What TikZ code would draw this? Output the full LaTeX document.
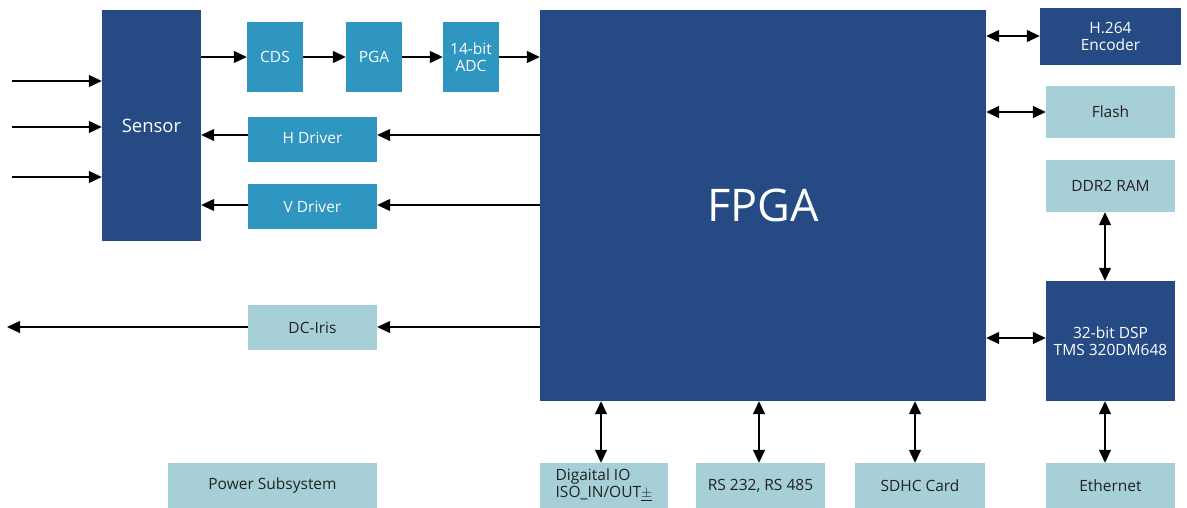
\documentclass[tikz,border=0pt]{standalone}
\usepackage{fontspec}
\setmainfont{Open Sans}
\usetikzlibrary{arrows.meta}
\definecolor{dkblue}{HTML}{254A84}
\definecolor{mdblue}{HTML}{2E96C0}
\definecolor{ltblue}{HTML}{A6CFD8}
\definecolor{txt}{HTML}{222222}
\tikzset{
  box/.style={draw=none, inner sep=0pt, align=center, font=\fontsize{15.5}{17.5}\selectfont},
  dark/.style={box, fill=dkblue, text=white},
  mid/.style={box, fill=mdblue, text=white},
  light/.style={box, fill=ltblue, text=txt},
  conn/.style={line width=1.3pt, -{Triangle[length=13pt,width=12pt]}},
  bconn/.style={line width=1.3pt, {Triangle[length=13pt,width=12pt]}-{Triangle[length=13pt,width=12pt]}},
}
\newcommand{\blk}[6]{%
  \node[#2, minimum width={#5-#3}, minimum height={#6-#4}] (#1) at ({(#3+#5)/2},{(#4+#6)/2})}
\begin{document}
\begin{tikzpicture}[x=1pt,y=-1pt]
\useasboundingbox (0,0) rectangle (1187,508);
\blk{sensor}{dark}{102}{10}{201}{241} {\fontsize{18.5}{20}\selectfont Sensor};
\blk{cds}{mid}{247}{22}{303}{92} {CDS};
\blk{pga}{mid}{346}{22}{402}{92} {PGA};
\blk{adc}{mid}{443}{22}{499}{92} {14-bit\\ADC};
\blk{hdrv}{mid}{248}{117}{377}{162} {\raisebox{3pt}{H Driver}};
\blk{vdrv}{mid}{248}{184}{377}{229} {V Driver};
\blk{iris}{light}{248}{305}{377}{350} {DC-Iris};
\blk{power}{light}{168}{463}{377}{508} {\raisebox{-2pt}{Power Subsystem}};
\blk{fpga}{dark}{540}{10}{986}{401} {\fontsize{45}{48}\selectfont FPGA};
\blk{h264}{dark}{1040}{8}{1181}{65} {H.264\\Encoder};
\blk{flash}{light}{1046}{86}{1175}{138} {Flash};
\blk{ddr}{light}{1046}{160}{1175}{212} {DDR2 RAM};
\blk{dsp}{dark}{1046}{281}{1175}{401} {32-bit DSP\\TMS 320DM648};
\blk{eth}{light}{1046}{463}{1175}{508} {\raisebox{-2pt}{Ethernet}};
\blk{dio}{light}{540}{463}{668}{508} {\raisebox{-5pt}{\begin{tabular}{@{}l@{}}Digaital IO\\ISO\_IN/OUT$\underline{\pm}$\end{tabular}}};
\blk{rs}{light}{696}{463}{825}{508} {\raisebox{-2pt}{RS 232, RS 485}};
\blk{sdhc}{light}{855}{463}{985}{508} {\raisebox{-2pt}{SDHC Card}};
% inputs to sensor
\coordinate (i1) at (12,81);
\coordinate (i2) at (12,127);
\coordinate (i3) at (12,177);
\draw[conn] (i1) -- (i1 -| sensor.west);
\draw[conn] (i2) -- (i2 -| sensor.west);
\draw[conn] (i3) -- (i3 -| sensor.west);
% signal chain
\coordinate (s1) at (201,57);
\draw[conn] (s1) -- (s1 -| cds.west);
\draw[conn] (cds.east |- s1) -- (s1 -| pga.west);
\draw[conn] (pga.east |- s1) -- (s1 -| adc.west);
\draw[conn] (adc.east |- s1) -- (s1 -| fpga.west);
% drivers
\coordinate (hy) at (0,135);
\coordinate (vy) at (0,205);
\draw[conn] (fpga.west |- hy) -- (hdrv.east |- hy);
\draw[conn] (hdrv.west |- hy) -- (sensor.east |- hy);
\draw[conn] (fpga.west |- vy) -- (vdrv.east |- vy);
\draw[conn] (vdrv.west |- vy) -- (sensor.east |- vy);
% iris
\coordinate (iy) at (7,327);
\draw[conn] (fpga.west |- iy) -- (iris.east |- iy);
\draw[conn] (iris.west |- iy) -- (iy);
% right side
\draw[bconn] (fpga.east |- 0,36) -- (h264.west |- 0,36);
\draw[bconn] (fpga.east |- 0,112) -- (flash.west |- 0,112);
\draw[bconn] (fpga.east |- 0,338) -- (dsp.west |- 0,338);
\draw[bconn] (ddr.south -| 1105,0) -- (dsp.north -| 1105,0);
\draw[bconn] (dsp.south -| 1105,0) -- (eth.north -| 1105,0);
% bottom
\draw[bconn] (fpga.south -| 601,0) -- (dio.north -| 601,0);
\draw[bconn] (fpga.south -| 759,0) -- (rs.north -| 759,0);
\draw[bconn] (fpga.south -| 915,0) -- (sdhc.north -| 915,0);
\end{tikzpicture}
\end{document}
